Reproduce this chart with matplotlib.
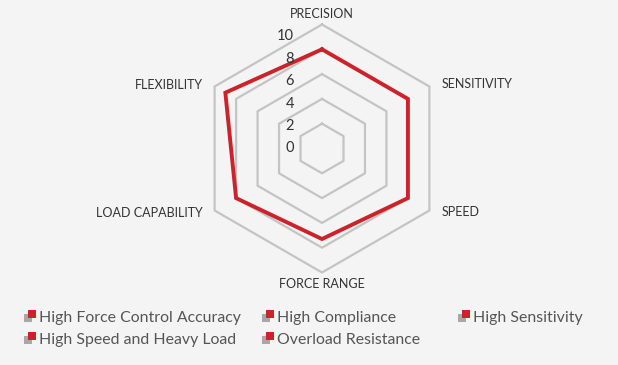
import numpy as np
import matplotlib
matplotlib.use("Agg")
import matplotlib.pyplot as plt
import matplotlib.patches as patches
from matplotlib.transforms import offset_copy

# chart data
indicators = ["PRECISION", "SENSITIVITY", "SPEED", "FORCE RANGE", "LOAD CAPABILITY", "FLEXIBILITY"]
values = [8, 8, 8, 7.3, 8, 9]
radial_ticks = [0, 2, 4, 6, 8, 10]
series_names = ["High Force Control Accuracy", "High Compliance", "High Sensitivity",
                "High Speed and Heavy Load", "Overload Resistance"]

BG = "#f4f4f4"
GRID = "#c4c4c4"
RED = "#cc2229"
LEG_GRAY = "#a8a8a8"
TXT = "#333333"

plt.rcParams['font.family'] = ['Lato', 'DejaVu Sans']

W, H = 618, 365
fig = plt.figure(figsize=(W / 100, H / 100), dpi=100, facecolor=BG)

# radar centre at (322, 148.5) px, radius ~124 px
cx, cy, rad = 322, 148.5, 124
ax = fig.add_axes([(cx - rad) / W, 1 - (cy + rad) / H, 2 * rad / W, 2 * rad / H],
                  projection='polar')
ax.set_theta_offset(np.pi / 2)
ax.set_theta_direction(-1)
ax.set_ylim(0, 10)
ax.grid(False)
ax.spines['polar'].set_visible(False)
ax.set_xticks([])
ax.set_yticks([])
ax.patch.set_visible(False)

angles = np.linspace(0, 2 * np.pi, len(indicators), endpoint=False)
closed = np.append(angles, angles[0])

# hexagon rings
for lvl in radial_ticks[1:]:
    ax.plot(closed, [lvl] * len(closed), color=GRID, lw=1.6, zorder=1, clip_on=False)

# data line
ax.plot(closed, values + values[:1], color=RED, lw=2.8, zorder=3,
        solid_joinstyle='miter', clip_on=False)

# radial tick labels along the top axis
for v in radial_ticks:
    tr = offset_copy(ax.transData, fig=fig, x=-28, y=0, units='dots')
    ax.text(0, v * 0.905, str(v), transform=tr, ha='right', va='center',
            fontsize=10.5, color=TXT)

# indicator names
name_pos = [
    (0, 11, 'center', 'center'),
    (12, 2, 'left', 'center'),
    (12, -2, 'left', 'center'),
    (0, -12, 'center', 'center'),
    (-12, -2, 'right', 'center'),
    (-12, 2, 'right', 'center'),
]
for ang, name, (dx, dy, ha, va) in zip(angles, indicators, name_pos):
    tr = offset_copy(ax.transData, fig=fig, x=dx, y=dy, units='dots')
    ax.text(ang, 10, name, transform=tr, ha=ha, va=va, fontsize=9, color=TXT)

# legend
leg_x = [24, 262, 458]
leg_y = [318, 340]
for i, name in enumerate(series_names):
    x = leg_x[i % 3]
    y = leg_y[i // 3]
    fig.add_artist(patches.Rectangle((x / W, 1 - (y + 4) / H), 8 / W, 8 / H,
                                     transform=fig.transFigure, color=LEG_GRAY, lw=0))
    fig.add_artist(patches.Rectangle(((x + 4) / W, 1 - y / H), 8 / W, 8 / H,
                                     transform=fig.transFigure, color=RED, lw=0))
    fig.text((x + 15) / W, 1 - y / H, name, ha='left', va='center',
             fontsize=11.4, color="#555555")

fig.savefig("out.png", dpi=100, facecolor=BG)
